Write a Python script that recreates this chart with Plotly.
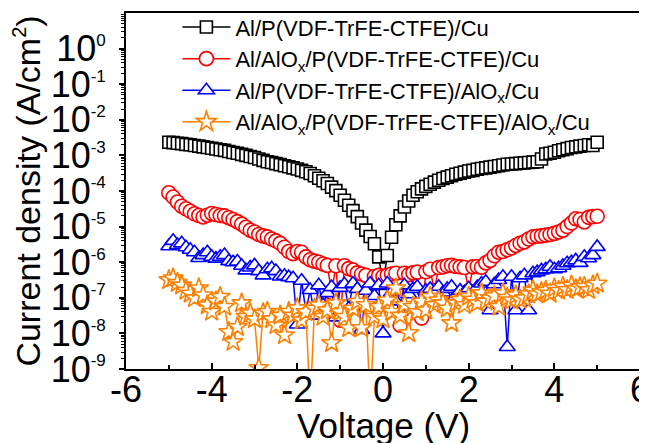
import numpy as np
import plotly.graph_objects as go

voltage = [-5.0, -4.9, -4.8, -4.7, -4.6, -4.5, -4.4, -4.3, -4.2, -4.1,
           -4.0, -3.9, -3.8, -3.7, -3.6, -3.5, -3.4, -3.3, -3.2, -3.1,
           -3.0, -2.9, -2.8, -2.7, -2.6, -2.5, -2.4, -2.3, -2.2, -2.1,
           -2.0, -1.9, -1.8, -1.7, -1.6, -1.5, -1.4, -1.3, -1.2, -1.1,
           -1.0, -0.9, -0.8, -0.7, -0.6, -0.5, -0.4, -0.3, -0.2, -0.1,
           0.0, 0.1, 0.2, 0.3, 0.4, 0.5, 0.6, 0.7, 0.8, 0.9,
           1.0, 1.1, 1.2, 1.3, 1.4, 1.5, 1.6, 1.7, 1.8, 1.9,
           2.0, 2.1, 2.2, 2.3, 2.4, 2.5, 2.6, 2.7, 2.8, 2.9,
           3.0, 3.1, 3.2, 3.3, 3.4, 3.5, 3.6, 3.7, 3.8, 3.9,
           4.0, 4.1, 4.2, 4.3, 4.4, 4.5, 4.6, 4.7, 4.8, 4.9, 5.0]

# log10 of current density (A/cm^2)
log_j_cu = [-2.63, -2.64, -2.66, -2.67, -2.69, -2.70, -2.72, -2.74, -2.76, -2.78,
            -2.80, -2.82, -2.84, -2.86, -2.89, -2.92, -2.94, -2.97, -3.00, -3.03,
            -3.06, -3.10, -3.14, -3.18, -3.20, -3.23, -3.26, -3.29, -3.32, -3.35,
            -3.38, -3.42, -3.46, -3.51, -3.57, -3.64, -3.71, -3.79, -3.89, -3.99,
            -4.12, -4.26, -4.40, -4.55, -4.72, -4.90, -5.10, -5.28, -5.48, -5.85,
            -6.60, -5.81, -5.30, -4.95, -4.70, -4.45, -4.28, -4.12, -4.02, -3.94,
            -3.87, -3.81, -3.75, -3.70, -3.65, -3.61, -3.57, -3.53, -3.50, -3.47,
            -3.44, -3.42, -3.39, -3.37, -3.35, -3.33, -3.31, -3.29, -3.27, -3.25,
            -3.24, -3.23, -3.22, -3.21, -3.20, -3.19, -3.18, -3.10, -2.96, -2.94,
            -2.91, -2.87, -2.84, -2.81, -2.78, -2.76, -2.74, -2.72, -2.70, -2.72, -2.63]

log_j_alox_cu = [-4.05, -4.17, -4.31, -4.43, -4.50, -4.57, -4.64, -4.69, -4.73, -4.68,
                 -4.63, -4.66, -4.69, -4.70, -4.75, -4.80, -4.86, -4.93, -5.02, -5.10,
                 -5.15, -5.22, -5.26, -5.29, -5.35, -5.40, -5.47, -5.58, -5.70, -5.76,
                 -5.70, -5.72, -5.85, -5.93, -5.97, -6.00, -6.05, -6.09, -6.85, -6.10,
                 -7.63, -6.10, -6.18, -6.22, -6.30, -6.33, -6.37, -7.00, -6.40, -6.37,
                 -6.40, -6.37, -6.33, -6.31, -7.77, -6.31, -6.35, -6.30, -6.28, -7.57,
                 -6.27, -6.20, -6.80, -6.15, -6.13, -6.10, -6.09, -6.12, -6.13, -6.15,
                 -6.80, -6.13, -6.12, -6.14, -6.02, -5.95, -5.82, -5.72, -5.70, -5.65,
                 -5.60, -5.53, -5.47, -5.43, -5.35, -5.29, -5.27, -5.26, -5.24, -5.22,
                 -5.19, -5.15, -5.10, -5.00, -4.90, -4.78, -4.80, -4.87, -4.74, -4.72, -4.71]

log_j_cu_alox = [-5.55, -5.40, -5.52, -5.47, -5.58, -5.65, -5.72, -5.88, -5.80, -5.72,
                 -5.85, -5.90, -5.85, -5.80, -5.97, -6.00, -5.98, -6.10, -6.23, -6.15,
                 -6.09, -6.25, -6.37, -6.20, -6.17, -6.25, -6.40, -6.38, -6.42, -6.45,
                 -7.75, -6.52, -7.40, -6.78, -7.50, -6.65, -7.20, -6.87, -6.70, -7.55,
                 -6.72, -6.62, -7.30, -6.60, -6.75, -7.90, -6.80, -6.60, -6.95, -6.65,
                 -8.00, -6.60, -6.85, -7.10, -7.39, -6.65, -6.90, -6.75, -6.69, -7.35,
                 -6.80, -6.75, -6.90, -6.69, -6.85, -6.75, -6.69, -6.95, -6.80, -6.85,
                 -6.73, -6.90, -6.70, -6.60, -6.55, -7.35, -6.62, -6.50, -6.41, -8.38,
                 -6.41, -7.35, -6.45, -6.37, -7.35, -6.31, -6.28, -6.23, -6.20, -6.13,
                 -6.20, -6.17, -6.10, -6.03, -6.00, -5.95, -6.02, -5.85, -5.89, -5.80, -5.57]

log_j_alox_alox = [-6.50, -6.45, -6.58, -6.65, -6.80, -6.88, -7.01, -6.73, -6.93, -7.21,
                   -7.39, -7.10, -6.97, -7.25, -7.96, -8.24, -7.82, -7.15, -7.53, -7.43,
                   -7.60, -8.97, -7.43, -7.39, -7.60, -7.77, -7.50, -8.05, -7.39, -7.50,
                   -7.29, -7.63, -7.40, -10.0, -7.30, -7.21, -7.53, -7.35, -8.27, -7.15,
                   -7.40, -7.53, -7.85, -7.30, -7.11, -7.85, -7.20, -10.0, -7.53, -7.25,
                   -7.60, -7.07, -7.39, -6.73, -7.50, -7.20, -7.99, -7.25, -7.40, -7.10,
                   -7.35, -6.97, -7.20, -7.07, -7.15, -7.30, -7.71, -7.15, -7.05, -7.20,
                   -6.97, -7.05, -7.15, -6.87, -7.10, -7.01, -6.95, -7.25, -6.87, -7.00,
                   -7.07, -6.93, -7.05, -7.01, -6.90, -6.79, -6.90, -6.84, -6.80, -6.88,
                   -6.73, -6.80, -6.69, -6.78, -6.65, -6.75, -6.70, -6.69, -6.78, -6.65, -6.60]

series_names = [
    "Al/P(VDF-TrFE-CTFE)/Cu",
    "Al/AlO<sub>x</sub>/P(VDF-TrFE-CTFE)/Cu",
    "Al/P(VDF-TrFE-CTFE)/AlO<sub>x</sub>/Cu",
    "Al/AlO<sub>x</sub>/P(VDF-TrFE-CTFE)/AlO<sub>x</sub>/Cu",
]
series_logs = [log_j_cu, log_j_alox_cu, log_j_cu_alox, log_j_alox_alox]
series_colors = ["#000000", "#ff0000", "#0000ff", "#ff8000"]
series_symbols = ["square", "circle", "triangle-up", "star"]
series_sizes = [12, 14, 14, 15]

y_tick_vals = [1e-9, 1e-8, 1e-7, 1e-6, 1e-5, 1e-4, 1e-3, 1e-2, 1e-1, 1e0]
y_tick_exp = ["-9", "-8", "-7", "-6", "-5", "-4", "-3", "-2", "-1", "0"]
x_tick_vals = [-6, -4, -2, 0, 2, 4, 6]
x_tick_text = ["-6", "-4", "-2", "0", "2", "4", "6"]

y_tick_text = ["10<sup><span style='font-size:17px'>%s</span></sup>" % e for e in y_tick_exp]

fig = go.Figure()
for i, (name, logs, col, sym, sz) in enumerate(zip(series_names, series_logs, series_colors,
                                                   series_symbols, series_sizes)):
    fig.add_trace(go.Scatter(
        x=voltage, y=10 ** np.array(logs), name=name, mode="lines+markers",
        legendgroup="g%d" % i,
        line=dict(color=col, width=1.5),
        marker=dict(symbol=sym, size=sz, color="white",
                    line=dict(color=col, width=1.6)),
    ))

minor_y = [m * 10.0 ** d for d in range(-9, 1) for m in range(2, 10)]

font_family = "Liberation Sans, Arial, sans-serif"
fig.update_layout(
    width=647, height=443,
    margin=dict(l=118, r=15, t=5, b=82, autoexpand=False),
    paper_bgcolor="white", plot_bgcolor="white",
    font=dict(family=font_family, color="black"),
    showlegend=True,
    legend=dict(x=0.1, y=1.019, xanchor="left", yanchor="top",
                bgcolor="rgba(0,0,0,0)", font=dict(size=22),
                tracegroupgap=0, itemwidth=48),
    xaxis=dict(
        range=[-6, 6], tickmode="array", tickvals=x_tick_vals, ticktext=x_tick_text,
        ticks="inside", ticklen=6, tickwidth=1.5, tickcolor="black",
        showline=True, linecolor="black", linewidth=2, mirror=True,
        showgrid=False, zeroline=False,
        tickfont=dict(size=36), ticklabelstandoff=-12,
        minor=dict(tickmode="array", tickvals=[-5, -3, -1, 1, 3, 5],
                   ticks="inside", ticklen=4, tickwidth=1.5, tickcolor="black",
                   showgrid=False),
    ),
    yaxis=dict(
        type="log", range=[-9, 1], tickmode="array",
        tickvals=y_tick_vals, ticktext=y_tick_text,
        ticks="outside", ticklen=5, tickwidth=1.5, tickcolor="black",
        showline=True, linecolor="black", linewidth=2, mirror=True,
        showgrid=False, zeroline=False,
        tickfont=dict(size=36), ticklabelstandoff=6,
        minor=dict(tickmode="array", tickvals=minor_y,
                   ticks="outside", ticklen=3, tickwidth=1, tickcolor="black",
                   showgrid=False),
        title=dict(text="Current density (A/cm<sup><span style='font-size:20px'>2</span></sup>)",
                   font=dict(size=34), standoff=0),
    ),
    annotations=[dict(text="Voltage (V)", xref="paper", yref="paper",
                      x=0.5, y=-0.097, xanchor="center", yanchor="top",
                      showarrow=False, font=dict(size=35))],
)

fig.write_html("out.html")
